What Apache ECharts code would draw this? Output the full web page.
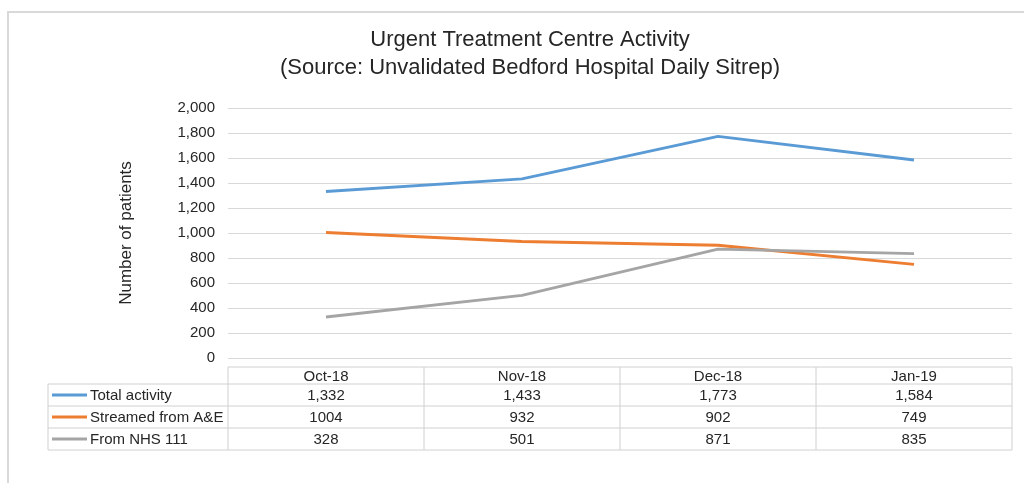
<!DOCTYPE html>
<html>
<head>
<meta charset="utf-8">
<script src="https://cdn.jsdelivr.net/npm/echarts@6/dist/echarts.min.js"></script>
<style>
  html, body { margin: 0; padding: 0; background: #fff; }
  #chart { width: 1024px; height: 483px; }
</style>
</head>
<body>
<div id="chart"></div>
<script>
// 数据
var months = ['Oct-18', 'Nov-18', 'Dec-18', 'Jan-19'];
var seriesNames = ['Total activity', 'Streamed from A&E', 'From NHS 111'];
var totalActivity = [1332, 1433, 1773, 1584];
var streamedAE = [1004, 932, 902, 749];
var fromNHS111 = [328, 501, 871, 835];
// 表格里显示的文字（原表格式不统一，照抄）
var totalLabels = ['1,332', '1,433', '1,773', '1,584'];
var streamedLabels = ['1004', '932', '902', '749'];
var nhsLabels = ['328', '501', '871', '835'];

var colors = ['#5B9BD5', '#ED7D31', '#A5A5A5'];
var font = '"Liberation Sans", Arial, sans-serif';

var gridLeft = 228, gridRight = 12, gridTop = 108, gridBottom = 125;

var chart = echarts.init(document.getElementById('chart'));

/* 数据表（Excel 风格） */
function buildTable() {
  var els = [];
  var plotW = 1024 - gridLeft - gridRight;
  var colW = plotW / months.length;
  var tableLeft = 48;
  var rowsY = [367, 384, 406, 428, 450];
  var line = { stroke: '#D0D0D0', lineWidth: 1 };
  var rowLabels = [totalLabels, streamedLabels, nhsLabels];

  // 横线
  els.push({ type: 'line', shape: { x1: gridLeft, y1: rowsY[0], x2: gridLeft + plotW, y2: rowsY[0] }, style: line });
  for (var r = 1; r < rowsY.length; r++) {
    els.push({ type: 'line', shape: { x1: tableLeft, y1: rowsY[r], x2: gridLeft + plotW, y2: rowsY[r] }, style: line });
  }
  // 竖线
  els.push({ type: 'line', shape: { x1: tableLeft, y1: rowsY[1], x2: tableLeft, y2: rowsY[4] }, style: line });
  for (var c = 0; c <= months.length; c++) {
    var x = gridLeft + c * colW;
    els.push({ type: 'line', shape: { x1: x, y1: rowsY[0], x2: x, y2: rowsY[4] }, style: line });
  }
  // 表头
  months.forEach(function (m, i) {
    els.push({
      type: 'text',
      style: { text: m, x: gridLeft + (i + 0.5) * colW, y: (rowsY[0] + rowsY[1]) / 2 + 1,
        align: 'center', verticalAlign: 'middle', font: '15px ' + font, fill: '#262626' }
    });
  });
  // 数据行
  seriesNames.forEach(function (name, s) {
    var cy = (rowsY[s + 1] + rowsY[s + 2]) / 2 + 1;
    els.push({ type: 'line', shape: { x1: 52, y1: cy - 1, x2: 87, y2: cy - 1 },
      style: { stroke: colors[s], lineWidth: 3 } });
    els.push({
      type: 'text',
      style: { text: name, x: 90, y: cy, verticalAlign: 'middle', font: '15px ' + font, fill: '#262626' }
    });
    rowLabels[s].forEach(function (v, i) {
      els.push({
        type: 'text',
        style: { text: v, x: gridLeft + (i + 0.5) * colW, y: cy, align: 'center',
          verticalAlign: 'middle', font: '15px ' + font, fill: '#262626' }
      });
    });
  });
  // 外框
  els.push({ type: 'rect', shape: { x: 8, y: 12, width: 1030, height: 490 },
    style: { fill: 'none', stroke: '#D9D9D9', lineWidth: 2 }, z: -1 });
  return els;
}

var option = {
  animation: false,
  color: colors,
  textStyle: { fontFamily: font },
  title: {
    text: 'Urgent Treatment Centre Activity\n(Source: Unvalidated Bedford Hospital Daily Sitrep)',
    left: 525,
    top: 21,
    textAlign: 'center',
    textStyle: { fontSize: 22, fontWeight: 'normal', color: '#262626', lineHeight: 28, fontFamily: font }
  },
  grid: { left: gridLeft, right: gridRight, top: gridTop, bottom: gridBottom },
  xAxis: {
    type: 'category',
    data: months,
    boundaryGap: true,
    axisLine: { show: false },
    axisTick: { show: false },
    axisLabel: { show: false }
  },
  yAxis: {
    type: 'value',
    min: 0,
    max: 2000,
    interval: 200,
    name: 'Number of patients',
    nameLocation: 'middle',
    nameGap: 93,
    nameRotate: 90,
    nameTextStyle: { fontSize: 17, color: '#262626', fontFamily: font },
    axisLine: { show: false },
    axisTick: { show: false },
    axisLabel: {
      margin: 13,
      fontSize: 15,
      color: '#262626',
      fontFamily: font,
      formatter: function (v) { return v.toLocaleString('en-GB'); }
    },
    splitLine: { lineStyle: { color: '#D9D9D9', width: 1 } }
  },
  series: [
    { name: seriesNames[0], type: 'line', data: totalActivity },
    { name: seriesNames[1], type: 'line', data: streamedAE },
    { name: seriesNames[2], type: 'line', data: fromNHS111 }
  ].map(function (s) {
    s.symbol = 'none';
    s.lineStyle = { width: 3 };
    return s;
  }),
  graphic: buildTable()
};

chart.setOption(option);
</script>
</body>
</html>
